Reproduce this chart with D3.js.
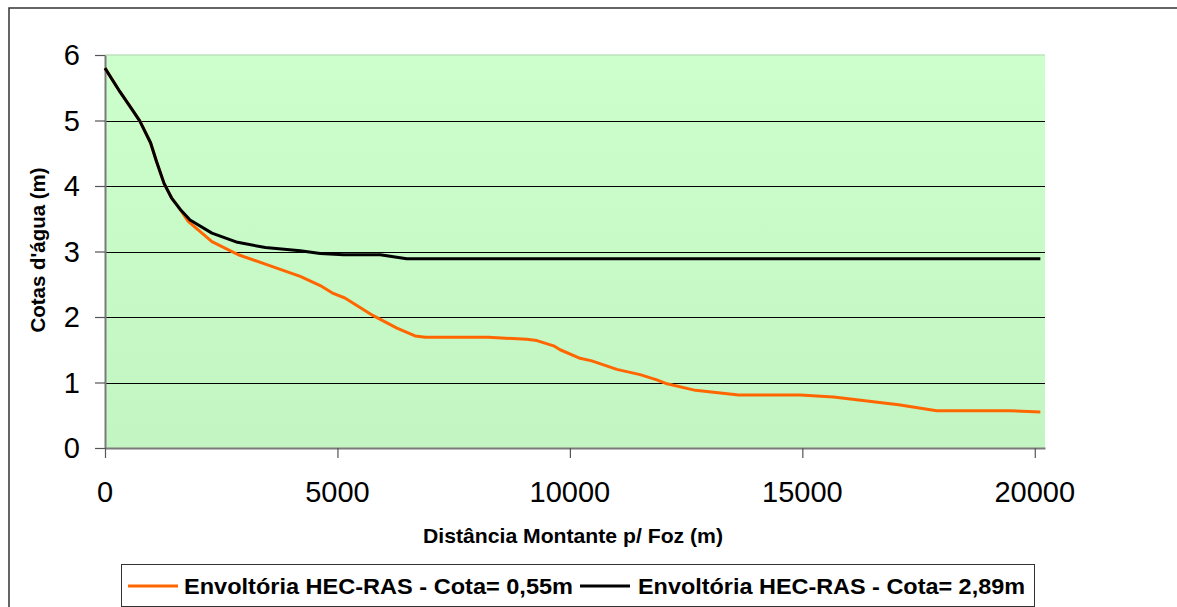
<!DOCTYPE html>
<html>
<head>
<meta charset="utf-8">
<script src="https://cdn.jsdelivr.net/npm/d3@7"></script>
<style>
  html, body { margin: 0; padding: 0; background: #fff; }
  svg { display: block; font-family: Arial, "Liberation Sans", sans-serif; }
</style>
</head>
<body>
<svg id="chart" width="1177" height="607"></svg>
<script>
// ---- data ----
const orangeDist = [0, 320, 610, 750, 980, 1110, 1270, 1430, 1610, 1790, 2300, 2870, 3480, 4200, 4630, 4910, 5160, 5770, 6280, 6670, 6890, 8250, 9070, 9290, 9650, 9790, 10220, 10470, 11010, 11510, 11870, 12090, 12700, 13630, 14950, 15670, 17070, 17890, 19470, 20120];
const orangeCota = [5.80, 5.44, 5.14, 4.99, 4.66, 4.37, 4.04, 3.82, 3.65, 3.46, 3.15, 2.95, 2.80, 2.62, 2.48, 2.36, 2.29, 2.02, 1.83, 1.71, 1.69, 1.69, 1.66, 1.64, 1.56, 1.50, 1.37, 1.33, 1.20, 1.12, 1.04, 0.98, 0.88, 0.81, 0.81, 0.78, 0.66, 0.57, 0.57, 0.55];
const blackDist = [0, 320, 610, 750, 980, 1110, 1270, 1430, 1610, 1830, 2300, 2850, 3450, 4200, 4630, 5130, 5920, 6490, 10000, 15000, 18900, 20120];
const blackCota = [5.80, 5.44, 5.14, 4.99, 4.66, 4.37, 4.04, 3.82, 3.65, 3.48, 3.28, 3.14, 3.06, 3.01, 2.97, 2.95, 2.95, 2.89, 2.89, 2.89, 2.89, 2.89];
const xTicks = [0, 5000, 10000, 15000, 20000];
const yTicks = [0, 1, 2, 3, 4, 5, 6];
const seriesNames = ["Envoltória HEC-RAS - Cota= 0,55m", "Envoltória HEC-RAS - Cota= 2,89m"];
const seriesColors = ["#FF6600", "#000000"];
const xTitle = "Distância Montante p/ Foz (m)";
const yTitle = "Cotas d'água (m)";
const xDomainMax = 20220;

const svg = d3.select("#chart");
const x = d3.scaleLinear().domain([0, xDomainMax]).range([105, 1045]);
const y = d3.scaleLinear().domain([0, 6]).range([448, 55]);

// outer chart border
svg.append("rect").attr("x", 9).attr("y", 8).attr("width", 1300).attr("height", 700)
  .attr("fill", "#fff").attr("stroke", "#333").attr("stroke-width", 1.5);

// plot background gradient
const defs = svg.append("defs");
const grad = defs.append("linearGradient").attr("id", "bg").attr("x1", 0).attr("y1", 0).attr("x2", 0).attr("y2", 1);
grad.append("stop").attr("offset", "0%").attr("stop-color", "#ccffcc");
grad.append("stop").attr("offset", "100%").attr("stop-color", "#c3f5c3");

svg.append("rect")
  .attr("x", x(0)).attr("y", y(6))
  .attr("width", x(xDomainMax) - x(0)).attr("height", y(0) - y(6))
  .attr("fill", "url(#bg)");
// top edge of plot
svg.append("line").attr("x1", x(0)).attr("x2", x(xDomainMax)).attr("y1", y(6)).attr("y2", y(6))
  .attr("stroke", "#bfe3bf").attr("stroke-width", 1.5);

// gridlines
svg.append("g").selectAll("line").data(yTicks.filter(d => d > 0 && d < 6)).join("line")
  .attr("x1", x(0)).attr("x2", x(xDomainMax))
  .attr("y1", d => Math.round(y(d)) + 0.5).attr("y2", d => Math.round(y(d)) + 0.5)
  .attr("stroke", "#000").attr("stroke-width", 1);

// y axis
const yAxis = svg.append("g").attr("transform", `translate(${x(0)},0)`)
  .call(d3.axisLeft(y).tickValues(yTicks).tickSize(10).tickSizeOuter(0).tickFormat(""));
yAxis.select(".domain").attr("stroke", "#7a7a7a").attr("stroke-width", 2);
yAxis.selectAll(".tick line").attr("stroke", "#555").attr("stroke-width", 1.2);

// x axis
const xAxis = svg.append("g").attr("transform", `translate(0,${y(0)})`)
  .call(d3.axisBottom(x).tickValues(xTicks).tickSize(10).tickSizeOuter(0).tickFormat(""));
xAxis.select(".domain").attr("stroke", "#7a7a7a").attr("stroke-width", 2);
xAxis.selectAll(".tick line").attr("stroke", "#555").attr("stroke-width", 1.2);

// tick labels
svg.append("g").selectAll("text").data(yTicks).join("text")
  .attr("x", 80).attr("y", d => y(d)).attr("dy", "0.36em")
  .attr("text-anchor", "end").attr("font-size", 29).attr("fill", "#000")
  .text(d => d);
svg.append("g").selectAll("text").data(xTicks).join("text")
  .attr("x", d => x(d)).attr("y", 502)
  .attr("text-anchor", "middle").attr("font-size", 29).attr("fill", "#000")
  .text(d => d);

// axis titles
svg.append("text").attr("x", 573).attr("y", 543).attr("text-anchor", "middle")
  .attr("font-size", 21).attr("font-weight", "bold")
  .attr("textLength", 300).attr("lengthAdjust", "spacingAndGlyphs")
  .text(xTitle);
svg.append("text").attr("transform", "translate(45,250) rotate(-90)").attr("text-anchor", "middle")
  .attr("font-size", 20).attr("font-weight", "bold")
  .attr("textLength", 165).attr("lengthAdjust", "spacingAndGlyphs")
  .text(yTitle);

// lines
const line = d3.line().x(d => x(d[0])).y(d => y(d[1]));
const orangeData = orangeDist.map((d, i) => [d, orangeCota[i]]);
const blackData = blackDist.map((d, i) => [d, blackCota[i]]);
svg.append("path").datum(orangeData).attr("d", line)
  .attr("fill", "none").attr("stroke", seriesColors[0]).attr("stroke-width", 3).attr("stroke-linejoin", "round");
svg.append("path").datum(blackData).attr("d", line)
  .attr("fill", "none").attr("stroke", seriesColors[1]).attr("stroke-width", 3).attr("stroke-linejoin", "round");

// legend
svg.append("rect").attr("x", 121.5).attr("y", 564.5).attr("width", 913).attr("height", 42)
  .attr("fill", "#fff").attr("stroke", "#333").attr("stroke-width", 1);
const legendItems = [
  { lx1: 128, lx2: 178, tx: 184, tl: 389 },
  { lx1: 580, lx2: 630, tx: 638, tl: 387 }
];
legendItems.forEach((it, i) => {
  svg.append("line").attr("x1", it.lx1).attr("x2", it.lx2).attr("y1", 586).attr("y2", 586)
    .attr("stroke", seriesColors[i]).attr("stroke-width", 3);
  svg.append("text").attr("x", it.tx).attr("y", 594)
    .attr("font-size", 22).attr("font-weight", "bold")
    .attr("textLength", it.tl).attr("lengthAdjust", "spacingAndGlyphs")
    .text(seriesNames[i]);
});
</script>
</body>
</html>
